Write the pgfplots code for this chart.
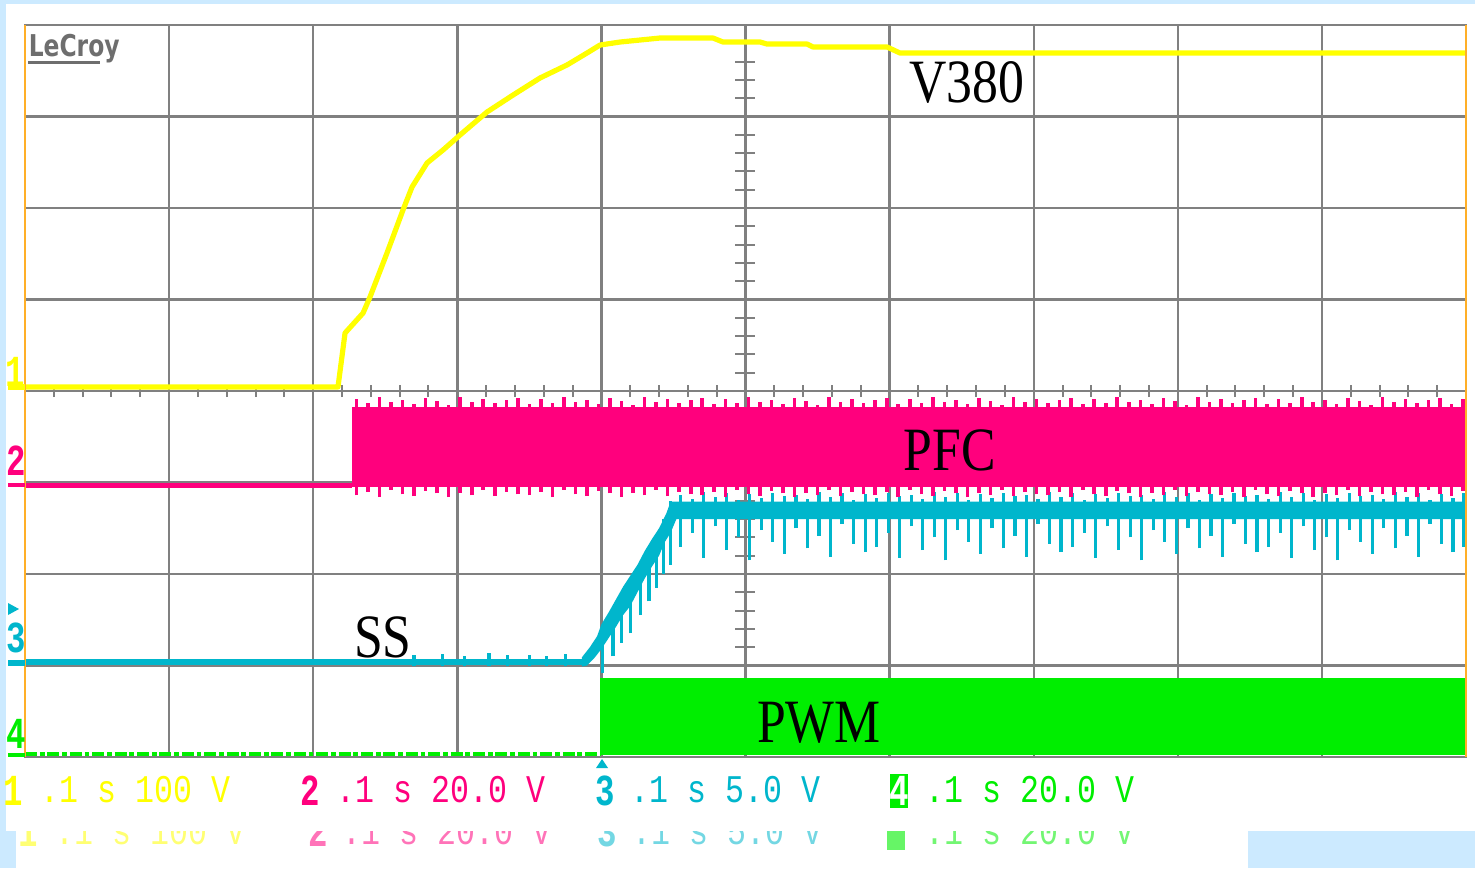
\documentclass[border=0pt]{standalone}
\usepackage{fontspec}
\setmainfont{Liberation Serif}
\setmonofont{Liberation Mono}
\setsansfont{DejaVu Sans}
\usepackage{graphicx}
\usepackage{pgfplots}
\usepackage{pgfplotstable}
\pgfplotsset{compat=1.18}

\definecolor{bgblue}{RGB}{204,234,255}
\definecolor{cyel}{RGB}{255,255,0}
\definecolor{cmag}{RGB}{255,0,125}
\definecolor{ccya}{RGB}{0,182,204}
\definecolor{cgrn}{RGB}{0,238,0}
\definecolor{gridgray}{RGB}{128,128,128}
\definecolor{lcgray}{RGB}{110,110,110}
\definecolor{scopeorange}{RGB}{255,175,40}

% screen pixel (x,y) -> picture coordinates (grid lower-left at origin)
\newcommand\px[2]{({(#1-25)*0.25pt},{(757-#2)*0.25pt})}

\tikzset{
  rowtxt/.style={inner sep=0pt, anchor=west, font=\fontsize{7.9pt}{8pt}\ttfamily},
  chnum/.style={inner sep=0pt, font=\fontsize{9pt}{9pt}\ttfamily\bfseries},
  lbl/.style={inner sep=0pt, font=\fontsize{15.4pt}{16pt}\selectfont}
}

% PFC switching band: spike extents (divisions)
\pgfplotstableread[row sep=\\]{
x bot top\\
2.30 2.86 3.91\\ 2.38 2.90 3.87\\ 2.46 2.84 3.93\\ 2.54 2.92 3.88\\ 2.62 2.87 3.90\\ 2.70 2.85 3.86\\
2.78 2.91 3.92\\ 2.86 2.88 3.89\\ 2.94 2.84 3.85\\ 3.02 2.89 3.93\\ 3.10 2.86 3.88\\ 3.18 2.92 3.91\\
3.26 2.85 3.87\\ 3.34 2.90 3.90\\ 3.42 2.87 3.92\\ 3.50 2.86 3.86\\ 3.58 2.90 3.91\\ 3.66 2.84 3.87\\
3.74 2.92 3.93\\ 3.82 2.87 3.88\\ 3.90 2.85 3.90\\ 3.98 2.91 3.86\\ 4.06 2.88 3.92\\ 4.14 2.84 3.89\\
4.22 2.89 3.85\\ 4.30 2.86 3.93\\ 4.38 2.92 3.88\\ 4.46 2.85 3.91\\ 4.54 2.90 3.87\\ 4.62 2.87 3.90\\
4.70 2.86 3.92\\ 4.78 2.90 3.86\\ 4.86 2.84 3.91\\ 4.94 2.92 3.87\\ 5.02 2.87 3.93\\ 5.10 2.85 3.88\\
5.18 2.91 3.90\\ 5.26 2.88 3.86\\ 5.34 2.84 3.92\\ 5.42 2.89 3.89\\ 5.50 2.86 3.85\\ 5.58 2.92 3.93\\
5.66 2.85 3.88\\ 5.74 2.90 3.91\\ 5.82 2.87 3.87\\ 5.90 2.86 3.90\\ 5.98 2.90 3.92\\ 6.06 2.84 3.86\\
6.14 2.92 3.91\\ 6.22 2.87 3.87\\ 6.30 2.85 3.93\\ 6.38 2.91 3.88\\ 6.46 2.88 3.90\\ 6.54 2.84 3.86\\
6.62 2.89 3.92\\ 6.70 2.86 3.89\\ 6.78 2.92 3.85\\ 6.86 2.85 3.93\\ 6.94 2.90 3.88\\ 7.02 2.87 3.91\\
7.10 2.86 3.87\\ 7.18 2.90 3.90\\ 7.26 2.84 3.92\\ 7.34 2.92 3.86\\ 7.42 2.87 3.91\\ 7.50 2.85 3.87\\
7.58 2.91 3.93\\ 7.66 2.88 3.88\\ 7.74 2.84 3.90\\ 7.82 2.89 3.86\\ 7.90 2.86 3.92\\ 7.98 2.92 3.89\\
8.06 2.85 3.85\\ 8.14 2.90 3.93\\ 8.22 2.87 3.88\\ 8.30 2.86 3.91\\ 8.38 2.90 3.87\\ 8.46 2.84 3.90\\
8.54 2.92 3.92\\ 8.62 2.87 3.86\\ 8.70 2.85 3.91\\ 8.78 2.91 3.87\\ 8.86 2.88 3.93\\ 8.94 2.84 3.88\\
9.02 2.89 3.90\\ 9.10 2.86 3.86\\ 9.18 2.92 3.92\\ 9.26 2.85 3.89\\ 9.34 2.90 3.85\\ 9.42 2.87 3.93\\
9.50 2.86 3.88\\ 9.58 2.90 3.91\\ 9.66 2.84 3.87\\ 9.74 2.92 3.90\\ 9.82 2.87 3.92\\ 9.90 2.85 3.86\\
9.98 2.91 3.91\\
}\magspk

% SS trace: noise spikes (divisions)
\pgfplotstableread[row sep=\\]{
x bot top\\
2.70 1.00 1.11\\ 2.90 1.00 1.13\\ 3.05 1.00 1.10\\ 3.22 1.00 1.14\\ 3.35 1.00 1.11\\
3.50 1.00 1.12\\ 3.62 1.00 1.10\\ 3.75 1.00 1.13\\
4.01 0.92 1.30\\ 4.08 1.10 1.60\\ 4.14 1.25 1.80\\ 4.20 1.35 1.90\\ 4.27 1.55 2.10\\
4.33 1.70 2.30\\ 4.38 1.85 2.40\\ 4.43 2.00 2.60\\ 4.48 2.10 2.80\\
4.55 2.30 2.86\\ 4.63 2.45 2.82\\ 4.71 2.18 2.90\\ 4.79 2.52 2.84\\ 4.87 2.26 2.88\\ 4.95 2.40 2.81\\
5.03 2.15 2.87\\ 5.11 2.48 2.83\\ 5.19 2.35 2.89\\ 5.27 2.22 2.85\\ 5.35 2.50 2.86\\ 5.43 2.28 2.82\\
5.51 2.42 2.90\\ 5.59 2.19 2.84\\ 5.67 2.55 2.88\\ 5.75 2.33 2.81\\ 5.83 2.24 2.87\\ 5.91 2.30 2.83\\
5.99 2.45 2.89\\ 6.07 2.18 2.85\\ 6.15 2.52 2.86\\ 6.23 2.26 2.82\\ 6.31 2.40 2.90\\ 6.39 2.15 2.84\\
6.47 2.48 2.88\\ 6.55 2.35 2.81\\ 6.63 2.22 2.87\\ 6.71 2.50 2.83\\ 6.79 2.28 2.89\\ 6.87 2.42 2.85\\
6.95 2.19 2.86\\ 7.03 2.55 2.82\\ 7.11 2.33 2.90\\ 7.19 2.24 2.84\\ 7.27 2.30 2.88\\ 7.35 2.45 2.81\\
7.43 2.18 2.87\\ 7.51 2.52 2.83\\ 7.59 2.26 2.89\\ 7.67 2.40 2.85\\ 7.75 2.15 2.86\\ 7.83 2.48 2.82\\
7.91 2.35 2.90\\ 7.99 2.22 2.84\\ 8.07 2.50 2.88\\ 8.15 2.28 2.81\\ 8.23 2.42 2.87\\ 8.31 2.19 2.83\\
8.39 2.55 2.89\\ 8.47 2.33 2.85\\ 8.55 2.24 2.86\\ 8.63 2.30 2.82\\ 8.71 2.45 2.90\\ 8.79 2.18 2.84\\
8.87 2.52 2.88\\ 8.95 2.26 2.81\\ 9.03 2.40 2.87\\ 9.11 2.15 2.83\\ 9.19 2.48 2.89\\ 9.27 2.35 2.85\\
9.35 2.22 2.86\\ 9.43 2.50 2.82\\ 9.51 2.28 2.90\\ 9.59 2.42 2.84\\ 9.67 2.19 2.88\\ 9.75 2.55 2.81\\
9.83 2.33 2.87\\ 9.91 2.24 2.83\\ 9.98 2.30 2.89\\
}\cyaspk

\begin{document}
\begin{tikzpicture}
\useasboundingbox \px{0}{0} rectangle \px{1475}{868};
% screen background
\fill[bgblue] \px{0}{0} rectangle \px{1475}{868};
\fill[white] \px{6}{4} rectangle \px{1475}{831};
\fill[white] \px{16}{831} rectangle \px{1248}{868};

% ghost copy of the status row, cut off at the top
\begin{scope}
\clip \px{16}{831} rectangle \px{1248}{868};
\node[chnum, text=cyel!55!white] at \px{28}{832} {\scalebox{0.9}[1.23]{1}};
\node[rowtxt, text=cyel!55!white] at \px{55}{832} {\scalebox{1}[1.24]{.1 s 100 V}};
\node[chnum, text=cmag!55!white] at \px{318}{832} {\scalebox{0.9}[1.23]{2}};
\node[rowtxt, text=cmag!55!white] at \px{342}{832} {\scalebox{1}[1.24]{.1 s 20.0 V}};
\node[chnum, text=ccya!55!white] at \px{607}{832} {\scalebox{0.9}[1.23]{3}};
\node[rowtxt, text=ccya!55!white] at \px{632}{832} {\scalebox{1}[1.24]{.1 s 5.0 V}};
\fill[cgrn!60!white] \px{887}{816} rectangle \px{905}{850};
\node[rowtxt, text=cgrn!55!white] at \px{925}{832} {\scalebox{1}[1.24]{.1 s 20.0 V}};
\end{scope}

% minor ticks on the centre lines
\foreach \k in {1,...,49}
  \draw[gridgray, line width=0.5pt] ({\k*7.205pt},90pt) -- ({\k*7.205pt},93pt);
\foreach \k in {1,...,39}
  \draw[gridgray, line width=0.5pt] (177.6pt,{\k*4.575pt}) -- (182.6pt,{\k*4.575pt});

\begin{axis}[
  at={(0pt,0pt)}, anchor=south west, scale only axis,
  width=360.25pt, height=183pt,
  xmin=0, xmax=10, ymin=0, ymax=8,
  xtick={0,...,10}, ytick={0,...,8},
  xticklabels={}, yticklabels={}, major tick length=0pt,
  grid=major, grid style={gridgray, line width=0.6pt},
  axis line style={gridgray, line width=0.6pt},
  clip=false
]
% channel 4: PWM
\addplot[cgrn, line width=1pt, dash pattern=on 3pt off 0.7pt on 1.2pt off 0.7pt]
  coordinates {(0,0.035)(3.99,0.035)};
\addplot[draw=none, fill=cgrn]
  coordinates {(3.99,0.02)(10,0.02)(10,0.86)(3.99,0.86)};

% channel 3: SS
\addplot[ccya, line width=1.4pt] coordinates {(0,1.04)(3.87,1.04)};
\addplot[draw=none, fill=ccya] coordinates {
  (3.865,0.99)(3.865,1.09)(3.92,1.20)(3.97,1.32)(4.00,1.45)(4.05,1.58)(4.10,1.72)
  (4.15,1.86)(4.20,1.98)(4.25,2.10)(4.30,2.25)(4.35,2.38)(4.40,2.50)(4.45,2.66)
  (4.48,2.79)(10,2.79)(10,2.60)(4.52,2.60)(4.48,2.45)(4.44,2.35)(4.40,2.20)
  (4.35,2.08)(4.30,1.95)(4.25,1.80)(4.20,1.65)(4.15,1.55)(4.10,1.42)(4.05,1.30)
  (4.00,1.18)(3.95,1.08)(3.90,1.00)};
\addplot[draw=none, mark=none, forget plot,
  error bars/.cd, y dir=plus, y explicit, error mark=none,
  error bar style={draw=ccya, line width=0.8pt}]
  table[x=x, y=bot, y error expr=\thisrow{top}-\thisrow{bot}] {\cyaspk};

% channel 2: PFC
\addplot[cmag, line width=1.2pt] coordinates {(0,2.97)(2.269,2.97)};
\addplot[draw=none, fill=cmag]
  coordinates {(2.269,2.95)(10,2.95)(10,3.83)(2.269,3.83)};
\addplot[draw=none, mark=none, forget plot,
  error bars/.cd, y dir=plus, y explicit, error mark=none,
  error bar style={draw=cmag, line width=0.9pt}]
  table[x=x, y=bot, y error expr=\thisrow{top}-\thisrow{bot}] {\magspk};

% channel 1: V380
\addplot[cyel, line width=1.3pt, line join=round] coordinates {
  (0,4.044)(2.172,4.044)(2.221,4.634)(2.346,4.852)(2.394,5.027)(2.512,5.508)
  (2.623,5.978)(2.686,6.230)(2.790,6.492)(2.901,6.634)(3.019,6.798)(3.206,7.049)
  (3.387,7.235)(3.574,7.421)(3.761,7.563)(3.900,7.694)(3.990,7.781)(4.129,7.814)
  (4.407,7.858)(4.774,7.858)(4.844,7.814)(5.101,7.814)(5.149,7.792)(5.427,7.792)
  (5.468,7.760)(5.982,7.760)(6.072,7.694)(10,7.694)};

% trace names
\node[lbl] at (axis cs:6.537,7.372) {\scalebox{0.84}[1]{V380}};
\node[lbl] at (axis cs:6.419,3.355) {\scalebox{0.84}[1]{PFC}};
\node[lbl] at (axis cs:2.484,1.311) {\scalebox{0.84}[1]{SS}};
\node[lbl] at (axis cs:5.510,0.372) {\scalebox{0.84}[1]{PWM}};
\end{axis}

% screen frame edges
\draw[scopeorange, line width=0.55pt] \px{25}{25} -- \px{25}{757};
\draw[scopeorange, line width=0.55pt] \px{1466}{25} -- \px{1466}{757};

% LeCroy logo
\node[anchor=base west, inner sep=0pt, text=lcgray, font=\fontsize{7.5pt}{8pt}\sffamily\bfseries]
  at \px{28}{57} {\scalebox{0.78}[1]{LeCroy}};
\fill[lcgray] \px{28}{61} rectangle \px{100}{64};

% channel markers on the left
\draw[cyel, line width=1.3pt] \px{8}{387} -- \px{25}{387};
\draw[cmag, line width=1.2pt] \px{8}{485} -- \px{25}{485};
\draw[ccya, line width=1.4pt] \px{8}{663} -- \px{25}{663};
\draw[cgrn, line width=1pt] \px{8}{755} -- \px{25}{755};
\node[chnum, text=cyel] at \px{15}{372} {\scalebox{0.9}[1.23]{1}};
\node[chnum, text=cmag] at \px{16}{461} {\scalebox{0.9}[1.23]{2}};
\fill[ccya] \px{8}{603} -- \px{19}{609} -- \px{8}{615} -- cycle;
\node[chnum, text=ccya] at \px{16}{638} {\scalebox{0.9}[1.23]{3}};
\node[chnum, text=cgrn] at \px{16}{734} {\scalebox{0.9}[1.23]{4}};

% trigger position
\fill[ccya] \px{596}{768} -- \px{602}{759} -- \px{608}{768} -- cycle;

% status row
\node[chnum, text=cyel] at \px{13}{791} {\scalebox{0.9}[1.23]{1}};
\node[rowtxt, text=cyel] at \px{40}{790} {\scalebox{1}[1.24]{.1 s 100 V}};
\node[chnum, text=cmag] at \px{310}{791} {\scalebox{0.9}[1.23]{2}};
\node[rowtxt, text=cmag] at \px{336}{790} {\scalebox{1}[1.24]{.1 s 20.0 V}};
\node[chnum, text=ccya] at \px{605}{791} {\scalebox{0.9}[1.23]{3}};
\node[rowtxt, text=ccya] at \px{630}{790} {\scalebox{1}[1.24]{.1 s 5.0 V}};
\fill[cgrn] \px{890}{774} rectangle \px{908}{808};
\node[chnum, text=white] at \px{899}{791} {\scalebox{0.9}[1.23]{4}};
\node[rowtxt, text=cgrn] at \px{925}{790} {\scalebox{1}[1.24]{.1 s 20.0 V}};
\end{tikzpicture}
\end{document}
